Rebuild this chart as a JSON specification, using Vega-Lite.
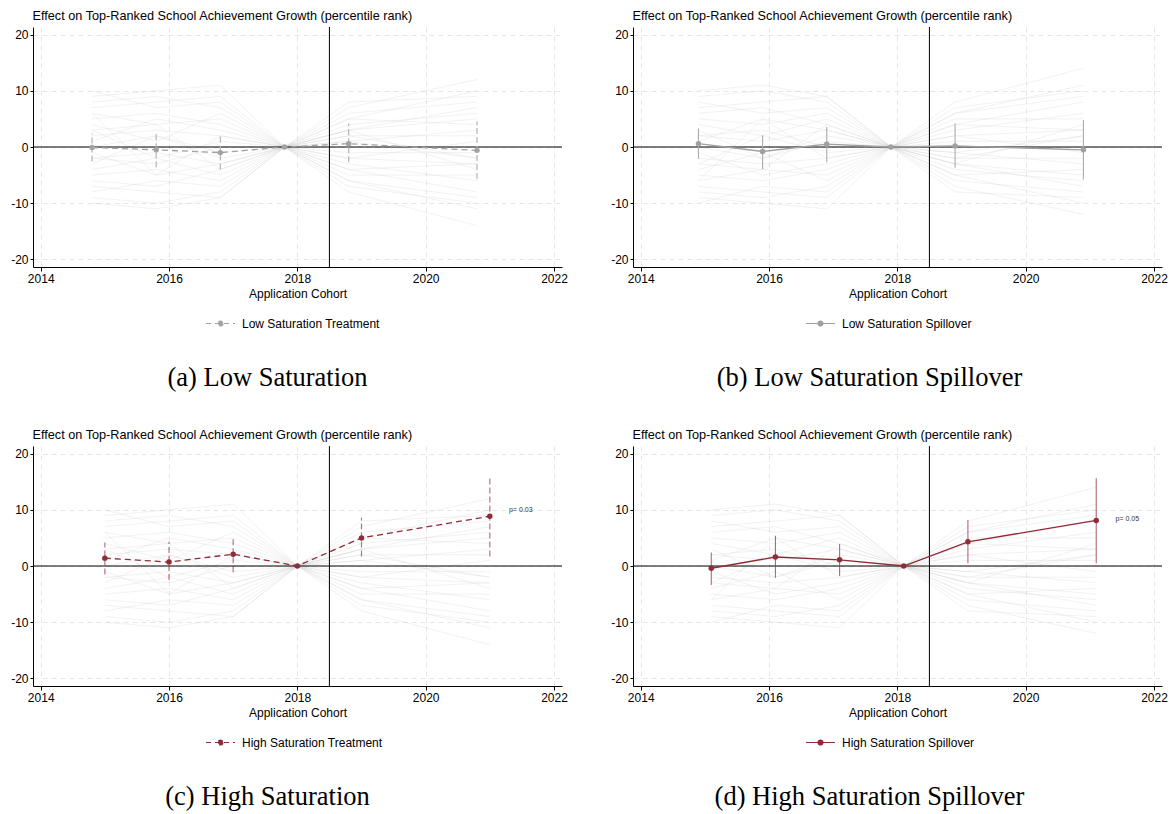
{
"$schema": "https://vega.github.io/schema/vega-lite/v6.json",
"background": "white",
"padding": {"left": 10, "top": 9, "right": 5, "bottom": 5},
"datasets": {
"est": [
{"p":"a","s":"Low Saturation Treatment","x":2014.8,"y":-0.1,"lo":-2.6,"hi":2.4},
{"p":"a","s":"Low Saturation Treatment","x":2015.8,"y":-0.5,"lo":-3.6,"hi":2.5},
{"p":"a","s":"Low Saturation Treatment","x":2016.8,"y":-1.0,"lo":-4.0,"hi":2.1},
{"p":"a","s":"Low Saturation Treatment","x":2017.8,"y":0,"lo":0,"hi":0},
{"p":"a","s":"Low Saturation Treatment","x":2018.8,"y":0.6,"lo":-2.7,"hi":4.2},
{"p":"a","s":"Low Saturation Treatment","x":2020.8,"y":-0.6,"lo":-5.7,"hi":4.6},
{"p":"b","s":"Low Saturation Spillover","x":2014.9,"y":0.6,"lo":-2.1,"hi":3.3},
{"p":"b","s":"Low Saturation Spillover","x":2015.9,"y":-0.8,"lo":-3.9,"hi":2.1},
{"p":"b","s":"Low Saturation Spillover","x":2016.9,"y":0.5,"lo":-2.7,"hi":3.6},
{"p":"b","s":"Low Saturation Spillover","x":2017.9,"y":0,"lo":0,"hi":0},
{"p":"b","s":"Low Saturation Spillover","x":2018.9,"y":0.2,"lo":-3.7,"hi":4.2},
{"p":"b","s":"Low Saturation Spillover","x":2020.9,"y":-0.5,"lo":-5.8,"hi":4.8},
{"p":"c","s":"High Saturation Treatment","x":2015,"y":1.4,"lo":-1.5,"hi":4.2},
{"p":"c","s":"High Saturation Treatment","x":2016,"y":0.7,"lo":-2.5,"hi":4.3},
{"p":"c","s":"High Saturation Treatment","x":2017,"y":2.1,"lo":-1.1,"hi":5.2},
{"p":"c","s":"High Saturation Treatment","x":2018,"y":0,"lo":0,"hi":0},
{"p":"c","s":"High Saturation Treatment","x":2019,"y":5.0,"lo":1.7,"hi":8.6},
{"p":"c","s":"High Saturation Treatment","x":2021,"y":8.85,"lo":1.7,"hi":16.0},
{"p":"d","s":"High Saturation Spillover","x":2015.1,"y":-0.4,"lo":-3.4,"hi":2.4},
{"p":"d","s":"High Saturation Spillover","x":2016.1,"y":1.6,"lo":-2.1,"hi":5.4},
{"p":"d","s":"High Saturation Spillover","x":2017.1,"y":1.1,"lo":-1.8,"hi":3.9},
{"p":"d","s":"High Saturation Spillover","x":2018.1,"y":0,"lo":0,"hi":0},
{"p":"d","s":"High Saturation Spillover","x":2019.1,"y":4.3,"lo":0.5,"hi":8.2},
{"p":"d","s":"High Saturation Spillover","x":2021.1,"y":8.1,"lo":0.5,"hi":15.6}
],
"plac": [
{"p":"a","i":1,"x":2014.8,"y":8},{"p":"a","i":1,"x":2015.8,"y":9},{"p":"a","i":1,"x":2016.8,"y":7},{"p":"a","i":1,"x":2017.8,"y":0},{"p":"a","i":1,"x":2018.8,"y":5},{"p":"a","i":1,"x":2020.8,"y":10},
{"p":"a","i":2,"x":2014.8,"y":-9},{"p":"a","i":2,"x":2015.8,"y":-10},{"p":"a","i":2,"x":2016.8,"y":-8},{"p":"a","i":2,"x":2017.8,"y":0},{"p":"a","i":2,"x":2018.8,"y":-6},{"p":"a","i":2,"x":2020.8,"y":-11},
{"p":"a","i":3,"x":2014.8,"y":5},{"p":"a","i":3,"x":2015.8,"y":6},{"p":"a","i":3,"x":2016.8,"y":4},{"p":"a","i":3,"x":2017.8,"y":0},{"p":"a","i":3,"x":2018.8,"y":3},{"p":"a","i":3,"x":2020.8,"y":7},
{"p":"a","i":4,"x":2014.8,"y":-5},{"p":"a","i":4,"x":2015.8,"y":-4},{"p":"a","i":4,"x":2016.8,"y":-6},{"p":"a","i":4,"x":2017.8,"y":0},{"p":"a","i":4,"x":2018.8,"y":-4},{"p":"a","i":4,"x":2020.8,"y":-8},
{"p":"a","i":5,"x":2014.8,"y":2},{"p":"a","i":5,"x":2015.8,"y":3},{"p":"a","i":5,"x":2016.8,"y":2},{"p":"a","i":5,"x":2017.8,"y":0},{"p":"a","i":5,"x":2018.8,"y":1},{"p":"a","i":5,"x":2020.8,"y":3},
{"p":"a","i":6,"x":2014.8,"y":-2},{"p":"a","i":6,"x":2015.8,"y":-1},{"p":"a","i":6,"x":2016.8,"y":-3},{"p":"a","i":6,"x":2017.8,"y":0},{"p":"a","i":6,"x":2018.8,"y":-2},{"p":"a","i":6,"x":2020.8,"y":-3},
{"p":"a","i":7,"x":2014.8,"y":6},{"p":"a","i":7,"x":2015.8,"y":4},{"p":"a","i":7,"x":2016.8,"y":5},{"p":"a","i":7,"x":2017.8,"y":0},{"p":"a","i":7,"x":2018.8,"y":-3},{"p":"a","i":7,"x":2020.8,"y":-6},
{"p":"a","i":8,"x":2014.8,"y":-6},{"p":"a","i":8,"x":2015.8,"y":-7},{"p":"a","i":8,"x":2016.8,"y":-4},{"p":"a","i":8,"x":2017.8,"y":0},{"p":"a","i":8,"x":2018.8,"y":4},{"p":"a","i":8,"x":2020.8,"y":6},
{"p":"a","i":9,"x":2014.8,"y":10},{"p":"a","i":9,"x":2015.8,"y":7},{"p":"a","i":9,"x":2016.8,"y":8},{"p":"a","i":9,"x":2017.8,"y":0},{"p":"a","i":9,"x":2018.8,"y":7},{"p":"a","i":9,"x":2020.8,"y":12},
{"p":"a","i":10,"x":2014.8,"y":-10},{"p":"a","i":10,"x":2015.8,"y":-11},{"p":"a","i":10,"x":2016.8,"y":-9},{"p":"a","i":10,"x":2017.8,"y":0},{"p":"a","i":10,"x":2018.8,"y":-8},{"p":"a","i":10,"x":2020.8,"y":-14},
{"p":"a","i":11,"x":2014.8,"y":3},{"p":"a","i":11,"x":2015.8,"y":-2},{"p":"a","i":11,"x":2016.8,"y":1},{"p":"a","i":11,"x":2017.8,"y":0},{"p":"a","i":11,"x":2018.8,"y":5},{"p":"a","i":11,"x":2020.8,"y":4},
{"p":"a","i":12,"x":2014.8,"y":-3},{"p":"a","i":12,"x":2015.8,"y":2},{"p":"a","i":12,"x":2016.8,"y":-1},{"p":"a","i":12,"x":2017.8,"y":0},{"p":"a","i":12,"x":2018.8,"y":-5},{"p":"a","i":12,"x":2020.8,"y":-5},
{"p":"a","i":13,"x":2014.8,"y":7},{"p":"a","i":13,"x":2015.8,"y":8},{"p":"a","i":13,"x":2016.8,"y":9},{"p":"a","i":13,"x":2017.8,"y":0},{"p":"a","i":13,"x":2018.8,"y":2},{"p":"a","i":13,"x":2020.8,"y":2},
{"p":"a","i":14,"x":2014.8,"y":-7},{"p":"a","i":14,"x":2015.8,"y":-8},{"p":"a","i":14,"x":2016.8,"y":-9},{"p":"a","i":14,"x":2017.8,"y":0},{"p":"a","i":14,"x":2018.8,"y":-1},{"p":"a","i":14,"x":2020.8,"y":-1},
{"p":"a","i":15,"x":2014.8,"y":1},{"p":"a","i":15,"x":2015.8,"y":5},{"p":"a","i":15,"x":2016.8,"y":3},{"p":"a","i":15,"x":2017.8,"y":0},{"p":"a","i":15,"x":2018.8,"y":6},{"p":"a","i":15,"x":2020.8,"y":8},
{"p":"a","i":16,"x":2014.8,"y":-1},{"p":"a","i":16,"x":2015.8,"y":-5},{"p":"a","i":16,"x":2016.8,"y":-3},{"p":"a","i":16,"x":2017.8,"y":0},{"p":"a","i":16,"x":2018.8,"y":-6},{"p":"a","i":16,"x":2020.8,"y":-9},
{"p":"a","i":17,"x":2014.8,"y":4},{"p":"a","i":17,"x":2015.8,"y":1},{"p":"a","i":17,"x":2016.8,"y":6},{"p":"a","i":17,"x":2017.8,"y":0},{"p":"a","i":17,"x":2018.8,"y":-2},{"p":"a","i":17,"x":2020.8,"y":1},
{"p":"a","i":18,"x":2014.8,"y":-4},{"p":"a","i":18,"x":2015.8,"y":-2},{"p":"a","i":18,"x":2016.8,"y":-5},{"p":"a","i":18,"x":2017.8,"y":0},{"p":"a","i":18,"x":2018.8,"y":2},{"p":"a","i":18,"x":2020.8,"y":-2},
{"p":"a","i":19,"x":2014.8,"y":0},{"p":"a","i":19,"x":2015.8,"y":2},{"p":"a","i":19,"x":2016.8,"y":-2},{"p":"a","i":19,"x":2017.8,"y":0},{"p":"a","i":19,"x":2018.8,"y":3},{"p":"a","i":19,"x":2020.8,"y":5},
{"p":"a","i":20,"x":2014.8,"y":9},{"p":"a","i":20,"x":2015.8,"y":10},{"p":"a","i":20,"x":2016.8,"y":11},{"p":"a","i":20,"x":2017.8,"y":0},{"p":"a","i":20,"x":2018.8,"y":-4},{"p":"a","i":20,"x":2020.8,"y":-3},
{"p":"a","i":21,"x":2014.8,"y":-8},{"p":"a","i":21,"x":2015.8,"y":-6},{"p":"a","i":21,"x":2016.8,"y":-7},{"p":"a","i":21,"x":2017.8,"y":0},{"p":"a","i":21,"x":2018.8,"y":3},{"p":"a","i":21,"x":2020.8,"y":-4},
{"p":"a","i":22,"x":2014.8,"y":3},{"p":"a","i":22,"x":2015.8,"y":4},{"p":"a","i":22,"x":2016.8,"y":-4},{"p":"a","i":22,"x":2017.8,"y":0},{"p":"a","i":22,"x":2018.8,"y":8},{"p":"a","i":22,"x":2020.8,"y":9},
{"p":"a","i":23,"x":2014.8,"y":-2},{"p":"a","i":23,"x":2015.8,"y":-3},{"p":"a","i":23,"x":2016.8,"y":0},{"p":"a","i":23,"x":2017.8,"y":0},{"p":"a","i":23,"x":2018.8,"y":-7},{"p":"a","i":23,"x":2020.8,"y":-10},
{"p":"a","i":24,"x":2014.8,"y":6},{"p":"a","i":24,"x":2015.8,"y":-5},{"p":"a","i":24,"x":2016.8,"y":2},{"p":"a","i":24,"x":2017.8,"y":0},{"p":"a","i":24,"x":2018.8,"y":1},{"p":"a","i":24,"x":2020.8,"y":-2},
{"p":"b","i":1,"x":2014.9,"y":-8},{"p":"b","i":1,"x":2015.9,"y":-9},{"p":"b","i":1,"x":2016.9,"y":-7},{"p":"b","i":1,"x":2017.9,"y":0},{"p":"b","i":1,"x":2018.9,"y":-5},{"p":"b","i":1,"x":2020.9,"y":-10},
{"p":"b","i":2,"x":2014.9,"y":9},{"p":"b","i":2,"x":2015.9,"y":10},{"p":"b","i":2,"x":2016.9,"y":8},{"p":"b","i":2,"x":2017.9,"y":0},{"p":"b","i":2,"x":2018.9,"y":6},{"p":"b","i":2,"x":2020.9,"y":11},
{"p":"b","i":3,"x":2014.9,"y":-5},{"p":"b","i":3,"x":2015.9,"y":-6},{"p":"b","i":3,"x":2016.9,"y":-4},{"p":"b","i":3,"x":2017.9,"y":0},{"p":"b","i":3,"x":2018.9,"y":-3},{"p":"b","i":3,"x":2020.9,"y":-7},
{"p":"b","i":4,"x":2014.9,"y":5},{"p":"b","i":4,"x":2015.9,"y":4},{"p":"b","i":4,"x":2016.9,"y":6},{"p":"b","i":4,"x":2017.9,"y":0},{"p":"b","i":4,"x":2018.9,"y":4},{"p":"b","i":4,"x":2020.9,"y":8},
{"p":"b","i":5,"x":2014.9,"y":-2},{"p":"b","i":5,"x":2015.9,"y":-3},{"p":"b","i":5,"x":2016.9,"y":-2},{"p":"b","i":5,"x":2017.9,"y":0},{"p":"b","i":5,"x":2018.9,"y":-1},{"p":"b","i":5,"x":2020.9,"y":-3},
{"p":"b","i":6,"x":2014.9,"y":2},{"p":"b","i":6,"x":2015.9,"y":1},{"p":"b","i":6,"x":2016.9,"y":3},{"p":"b","i":6,"x":2017.9,"y":0},{"p":"b","i":6,"x":2018.9,"y":2},{"p":"b","i":6,"x":2020.9,"y":3},
{"p":"b","i":7,"x":2014.9,"y":-6},{"p":"b","i":7,"x":2015.9,"y":-4},{"p":"b","i":7,"x":2016.9,"y":-5},{"p":"b","i":7,"x":2017.9,"y":0},{"p":"b","i":7,"x":2018.9,"y":3},{"p":"b","i":7,"x":2020.9,"y":6},
{"p":"b","i":8,"x":2014.9,"y":6},{"p":"b","i":8,"x":2015.9,"y":7},{"p":"b","i":8,"x":2016.9,"y":4},{"p":"b","i":8,"x":2017.9,"y":0},{"p":"b","i":8,"x":2018.9,"y":-4},{"p":"b","i":8,"x":2020.9,"y":-6},
{"p":"b","i":9,"x":2014.9,"y":-10},{"p":"b","i":9,"x":2015.9,"y":-7},{"p":"b","i":9,"x":2016.9,"y":-8},{"p":"b","i":9,"x":2017.9,"y":0},{"p":"b","i":9,"x":2018.9,"y":-7},{"p":"b","i":9,"x":2020.9,"y":-12},
{"p":"b","i":10,"x":2014.9,"y":10},{"p":"b","i":10,"x":2015.9,"y":11},{"p":"b","i":10,"x":2016.9,"y":9},{"p":"b","i":10,"x":2017.9,"y":0},{"p":"b","i":10,"x":2018.9,"y":8},{"p":"b","i":10,"x":2020.9,"y":14},
{"p":"b","i":11,"x":2014.9,"y":-3},{"p":"b","i":11,"x":2015.9,"y":2},{"p":"b","i":11,"x":2016.9,"y":-1},{"p":"b","i":11,"x":2017.9,"y":0},{"p":"b","i":11,"x":2018.9,"y":-5},{"p":"b","i":11,"x":2020.9,"y":-4},
{"p":"b","i":12,"x":2014.9,"y":3},{"p":"b","i":12,"x":2015.9,"y":-2},{"p":"b","i":12,"x":2016.9,"y":1},{"p":"b","i":12,"x":2017.9,"y":0},{"p":"b","i":12,"x":2018.9,"y":5},{"p":"b","i":12,"x":2020.9,"y":5},
{"p":"b","i":13,"x":2014.9,"y":-7},{"p":"b","i":13,"x":2015.9,"y":-8},{"p":"b","i":13,"x":2016.9,"y":-9},{"p":"b","i":13,"x":2017.9,"y":0},{"p":"b","i":13,"x":2018.9,"y":-2},{"p":"b","i":13,"x":2020.9,"y":-2},
{"p":"b","i":14,"x":2014.9,"y":7},{"p":"b","i":14,"x":2015.9,"y":8},{"p":"b","i":14,"x":2016.9,"y":9},{"p":"b","i":14,"x":2017.9,"y":0},{"p":"b","i":14,"x":2018.9,"y":1},{"p":"b","i":14,"x":2020.9,"y":1},
{"p":"b","i":15,"x":2014.9,"y":-1},{"p":"b","i":15,"x":2015.9,"y":-5},{"p":"b","i":15,"x":2016.9,"y":-3},{"p":"b","i":15,"x":2017.9,"y":0},{"p":"b","i":15,"x":2018.9,"y":-6},{"p":"b","i":15,"x":2020.9,"y":-8},
{"p":"b","i":16,"x":2014.9,"y":1},{"p":"b","i":16,"x":2015.9,"y":5},{"p":"b","i":16,"x":2016.9,"y":3},{"p":"b","i":16,"x":2017.9,"y":0},{"p":"b","i":16,"x":2018.9,"y":6},{"p":"b","i":16,"x":2020.9,"y":9},
{"p":"b","i":17,"x":2014.9,"y":-4},{"p":"b","i":17,"x":2015.9,"y":-1},{"p":"b","i":17,"x":2016.9,"y":-6},{"p":"b","i":17,"x":2017.9,"y":0},{"p":"b","i":17,"x":2018.9,"y":2},{"p":"b","i":17,"x":2020.9,"y":-1},
{"p":"b","i":18,"x":2014.9,"y":4},{"p":"b","i":18,"x":2015.9,"y":2},{"p":"b","i":18,"x":2016.9,"y":5},{"p":"b","i":18,"x":2017.9,"y":0},{"p":"b","i":18,"x":2018.9,"y":-2},{"p":"b","i":18,"x":2020.9,"y":2},
{"p":"b","i":19,"x":2014.9,"y":0},{"p":"b","i":19,"x":2015.9,"y":-2},{"p":"b","i":19,"x":2016.9,"y":2},{"p":"b","i":19,"x":2017.9,"y":0},{"p":"b","i":19,"x":2018.9,"y":-3},{"p":"b","i":19,"x":2020.9,"y":-5},
{"p":"b","i":20,"x":2014.9,"y":-9},{"p":"b","i":20,"x":2015.9,"y":-10},{"p":"b","i":20,"x":2016.9,"y":-11},{"p":"b","i":20,"x":2017.9,"y":0},{"p":"b","i":20,"x":2018.9,"y":4},{"p":"b","i":20,"x":2020.9,"y":3},
{"p":"b","i":21,"x":2014.9,"y":8},{"p":"b","i":21,"x":2015.9,"y":6},{"p":"b","i":21,"x":2016.9,"y":7},{"p":"b","i":21,"x":2017.9,"y":0},{"p":"b","i":21,"x":2018.9,"y":-3},{"p":"b","i":21,"x":2020.9,"y":4},
{"p":"b","i":22,"x":2014.9,"y":-3},{"p":"b","i":22,"x":2015.9,"y":-4},{"p":"b","i":22,"x":2016.9,"y":4},{"p":"b","i":22,"x":2017.9,"y":0},{"p":"b","i":22,"x":2018.9,"y":-8},{"p":"b","i":22,"x":2020.9,"y":-9},
{"p":"b","i":23,"x":2014.9,"y":2},{"p":"b","i":23,"x":2015.9,"y":3},{"p":"b","i":23,"x":2016.9,"y":0},{"p":"b","i":23,"x":2017.9,"y":0},{"p":"b","i":23,"x":2018.9,"y":7},{"p":"b","i":23,"x":2020.9,"y":10},
{"p":"b","i":24,"x":2014.9,"y":-6},{"p":"b","i":24,"x":2015.9,"y":5},{"p":"b","i":24,"x":2016.9,"y":-2},{"p":"b","i":24,"x":2017.9,"y":0},{"p":"b","i":24,"x":2018.9,"y":-1},{"p":"b","i":24,"x":2020.9,"y":2},
{"p":"c","i":1,"x":2015,"y":8},{"p":"c","i":1,"x":2016,"y":9},{"p":"c","i":1,"x":2017,"y":7},{"p":"c","i":1,"x":2018,"y":0},{"p":"c","i":1,"x":2019,"y":5},{"p":"c","i":1,"x":2021,"y":10},
{"p":"c","i":2,"x":2015,"y":-9},{"p":"c","i":2,"x":2016,"y":-10},{"p":"c","i":2,"x":2017,"y":-8},{"p":"c","i":2,"x":2018,"y":0},{"p":"c","i":2,"x":2019,"y":-6},{"p":"c","i":2,"x":2021,"y":-11},
{"p":"c","i":3,"x":2015,"y":5},{"p":"c","i":3,"x":2016,"y":6},{"p":"c","i":3,"x":2017,"y":4},{"p":"c","i":3,"x":2018,"y":0},{"p":"c","i":3,"x":2019,"y":3},{"p":"c","i":3,"x":2021,"y":7},
{"p":"c","i":4,"x":2015,"y":-5},{"p":"c","i":4,"x":2016,"y":-4},{"p":"c","i":4,"x":2017,"y":-6},{"p":"c","i":4,"x":2018,"y":0},{"p":"c","i":4,"x":2019,"y":-4},{"p":"c","i":4,"x":2021,"y":-8},
{"p":"c","i":5,"x":2015,"y":2},{"p":"c","i":5,"x":2016,"y":3},{"p":"c","i":5,"x":2017,"y":2},{"p":"c","i":5,"x":2018,"y":0},{"p":"c","i":5,"x":2019,"y":1},{"p":"c","i":5,"x":2021,"y":3},
{"p":"c","i":6,"x":2015,"y":-2},{"p":"c","i":6,"x":2016,"y":-1},{"p":"c","i":6,"x":2017,"y":-3},{"p":"c","i":6,"x":2018,"y":0},{"p":"c","i":6,"x":2019,"y":-2},{"p":"c","i":6,"x":2021,"y":-3},
{"p":"c","i":7,"x":2015,"y":6},{"p":"c","i":7,"x":2016,"y":4},{"p":"c","i":7,"x":2017,"y":5},{"p":"c","i":7,"x":2018,"y":0},{"p":"c","i":7,"x":2019,"y":-3},{"p":"c","i":7,"x":2021,"y":-6},
{"p":"c","i":8,"x":2015,"y":-6},{"p":"c","i":8,"x":2016,"y":-7},{"p":"c","i":8,"x":2017,"y":-4},{"p":"c","i":8,"x":2018,"y":0},{"p":"c","i":8,"x":2019,"y":4},{"p":"c","i":8,"x":2021,"y":6},
{"p":"c","i":9,"x":2015,"y":10},{"p":"c","i":9,"x":2016,"y":7},{"p":"c","i":9,"x":2017,"y":8},{"p":"c","i":9,"x":2018,"y":0},{"p":"c","i":9,"x":2019,"y":7},{"p":"c","i":9,"x":2021,"y":12},
{"p":"c","i":10,"x":2015,"y":-10},{"p":"c","i":10,"x":2016,"y":-11},{"p":"c","i":10,"x":2017,"y":-9},{"p":"c","i":10,"x":2018,"y":0},{"p":"c","i":10,"x":2019,"y":-8},{"p":"c","i":10,"x":2021,"y":-14},
{"p":"c","i":11,"x":2015,"y":3},{"p":"c","i":11,"x":2016,"y":-2},{"p":"c","i":11,"x":2017,"y":1},{"p":"c","i":11,"x":2018,"y":0},{"p":"c","i":11,"x":2019,"y":5},{"p":"c","i":11,"x":2021,"y":4},
{"p":"c","i":12,"x":2015,"y":-3},{"p":"c","i":12,"x":2016,"y":2},{"p":"c","i":12,"x":2017,"y":-1},{"p":"c","i":12,"x":2018,"y":0},{"p":"c","i":12,"x":2019,"y":-5},{"p":"c","i":12,"x":2021,"y":-5},
{"p":"c","i":13,"x":2015,"y":7},{"p":"c","i":13,"x":2016,"y":8},{"p":"c","i":13,"x":2017,"y":9},{"p":"c","i":13,"x":2018,"y":0},{"p":"c","i":13,"x":2019,"y":2},{"p":"c","i":13,"x":2021,"y":2},
{"p":"c","i":14,"x":2015,"y":-7},{"p":"c","i":14,"x":2016,"y":-8},{"p":"c","i":14,"x":2017,"y":-9},{"p":"c","i":14,"x":2018,"y":0},{"p":"c","i":14,"x":2019,"y":-1},{"p":"c","i":14,"x":2021,"y":-1},
{"p":"c","i":15,"x":2015,"y":1},{"p":"c","i":15,"x":2016,"y":5},{"p":"c","i":15,"x":2017,"y":3},{"p":"c","i":15,"x":2018,"y":0},{"p":"c","i":15,"x":2019,"y":6},{"p":"c","i":15,"x":2021,"y":8},
{"p":"c","i":16,"x":2015,"y":-1},{"p":"c","i":16,"x":2016,"y":-5},{"p":"c","i":16,"x":2017,"y":-3},{"p":"c","i":16,"x":2018,"y":0},{"p":"c","i":16,"x":2019,"y":-6},{"p":"c","i":16,"x":2021,"y":-9},
{"p":"c","i":17,"x":2015,"y":4},{"p":"c","i":17,"x":2016,"y":1},{"p":"c","i":17,"x":2017,"y":6},{"p":"c","i":17,"x":2018,"y":0},{"p":"c","i":17,"x":2019,"y":-2},{"p":"c","i":17,"x":2021,"y":1},
{"p":"c","i":18,"x":2015,"y":-4},{"p":"c","i":18,"x":2016,"y":-2},{"p":"c","i":18,"x":2017,"y":-5},{"p":"c","i":18,"x":2018,"y":0},{"p":"c","i":18,"x":2019,"y":2},{"p":"c","i":18,"x":2021,"y":-2},
{"p":"c","i":19,"x":2015,"y":0},{"p":"c","i":19,"x":2016,"y":2},{"p":"c","i":19,"x":2017,"y":-2},{"p":"c","i":19,"x":2018,"y":0},{"p":"c","i":19,"x":2019,"y":3},{"p":"c","i":19,"x":2021,"y":5},
{"p":"c","i":20,"x":2015,"y":9},{"p":"c","i":20,"x":2016,"y":10},{"p":"c","i":20,"x":2017,"y":11},{"p":"c","i":20,"x":2018,"y":0},{"p":"c","i":20,"x":2019,"y":-4},{"p":"c","i":20,"x":2021,"y":-3},
{"p":"c","i":21,"x":2015,"y":-8},{"p":"c","i":21,"x":2016,"y":-6},{"p":"c","i":21,"x":2017,"y":-7},{"p":"c","i":21,"x":2018,"y":0},{"p":"c","i":21,"x":2019,"y":3},{"p":"c","i":21,"x":2021,"y":-4},
{"p":"c","i":22,"x":2015,"y":3},{"p":"c","i":22,"x":2016,"y":4},{"p":"c","i":22,"x":2017,"y":-4},{"p":"c","i":22,"x":2018,"y":0},{"p":"c","i":22,"x":2019,"y":8},{"p":"c","i":22,"x":2021,"y":9},
{"p":"c","i":23,"x":2015,"y":-2},{"p":"c","i":23,"x":2016,"y":-3},{"p":"c","i":23,"x":2017,"y":0},{"p":"c","i":23,"x":2018,"y":0},{"p":"c","i":23,"x":2019,"y":-7},{"p":"c","i":23,"x":2021,"y":-10},
{"p":"c","i":24,"x":2015,"y":6},{"p":"c","i":24,"x":2016,"y":-5},{"p":"c","i":24,"x":2017,"y":2},{"p":"c","i":24,"x":2018,"y":0},{"p":"c","i":24,"x":2019,"y":1},{"p":"c","i":24,"x":2021,"y":-2},
{"p":"d","i":1,"x":2015.1,"y":-8},{"p":"d","i":1,"x":2016.1,"y":-9},{"p":"d","i":1,"x":2017.1,"y":-7},{"p":"d","i":1,"x":2018.1,"y":0},{"p":"d","i":1,"x":2019.1,"y":-5},{"p":"d","i":1,"x":2021.1,"y":-10},
{"p":"d","i":2,"x":2015.1,"y":9},{"p":"d","i":2,"x":2016.1,"y":10},{"p":"d","i":2,"x":2017.1,"y":8},{"p":"d","i":2,"x":2018.1,"y":0},{"p":"d","i":2,"x":2019.1,"y":6},{"p":"d","i":2,"x":2021.1,"y":11},
{"p":"d","i":3,"x":2015.1,"y":-5},{"p":"d","i":3,"x":2016.1,"y":-6},{"p":"d","i":3,"x":2017.1,"y":-4},{"p":"d","i":3,"x":2018.1,"y":0},{"p":"d","i":3,"x":2019.1,"y":-3},{"p":"d","i":3,"x":2021.1,"y":-7},
{"p":"d","i":4,"x":2015.1,"y":5},{"p":"d","i":4,"x":2016.1,"y":4},{"p":"d","i":4,"x":2017.1,"y":6},{"p":"d","i":4,"x":2018.1,"y":0},{"p":"d","i":4,"x":2019.1,"y":4},{"p":"d","i":4,"x":2021.1,"y":8},
{"p":"d","i":5,"x":2015.1,"y":-2},{"p":"d","i":5,"x":2016.1,"y":-3},{"p":"d","i":5,"x":2017.1,"y":-2},{"p":"d","i":5,"x":2018.1,"y":0},{"p":"d","i":5,"x":2019.1,"y":-1},{"p":"d","i":5,"x":2021.1,"y":-3},
{"p":"d","i":6,"x":2015.1,"y":2},{"p":"d","i":6,"x":2016.1,"y":1},{"p":"d","i":6,"x":2017.1,"y":3},{"p":"d","i":6,"x":2018.1,"y":0},{"p":"d","i":6,"x":2019.1,"y":2},{"p":"d","i":6,"x":2021.1,"y":3},
{"p":"d","i":7,"x":2015.1,"y":-6},{"p":"d","i":7,"x":2016.1,"y":-4},{"p":"d","i":7,"x":2017.1,"y":-5},{"p":"d","i":7,"x":2018.1,"y":0},{"p":"d","i":7,"x":2019.1,"y":3},{"p":"d","i":7,"x":2021.1,"y":6},
{"p":"d","i":8,"x":2015.1,"y":6},{"p":"d","i":8,"x":2016.1,"y":7},{"p":"d","i":8,"x":2017.1,"y":4},{"p":"d","i":8,"x":2018.1,"y":0},{"p":"d","i":8,"x":2019.1,"y":-4},{"p":"d","i":8,"x":2021.1,"y":-6},
{"p":"d","i":9,"x":2015.1,"y":-10},{"p":"d","i":9,"x":2016.1,"y":-7},{"p":"d","i":9,"x":2017.1,"y":-8},{"p":"d","i":9,"x":2018.1,"y":0},{"p":"d","i":9,"x":2019.1,"y":-7},{"p":"d","i":9,"x":2021.1,"y":-12},
{"p":"d","i":10,"x":2015.1,"y":10},{"p":"d","i":10,"x":2016.1,"y":11},{"p":"d","i":10,"x":2017.1,"y":9},{"p":"d","i":10,"x":2018.1,"y":0},{"p":"d","i":10,"x":2019.1,"y":8},{"p":"d","i":10,"x":2021.1,"y":14},
{"p":"d","i":11,"x":2015.1,"y":-3},{"p":"d","i":11,"x":2016.1,"y":2},{"p":"d","i":11,"x":2017.1,"y":-1},{"p":"d","i":11,"x":2018.1,"y":0},{"p":"d","i":11,"x":2019.1,"y":-5},{"p":"d","i":11,"x":2021.1,"y":-4},
{"p":"d","i":12,"x":2015.1,"y":3},{"p":"d","i":12,"x":2016.1,"y":-2},{"p":"d","i":12,"x":2017.1,"y":1},{"p":"d","i":12,"x":2018.1,"y":0},{"p":"d","i":12,"x":2019.1,"y":5},{"p":"d","i":12,"x":2021.1,"y":5},
{"p":"d","i":13,"x":2015.1,"y":-7},{"p":"d","i":13,"x":2016.1,"y":-8},{"p":"d","i":13,"x":2017.1,"y":-9},{"p":"d","i":13,"x":2018.1,"y":0},{"p":"d","i":13,"x":2019.1,"y":-2},{"p":"d","i":13,"x":2021.1,"y":-2},
{"p":"d","i":14,"x":2015.1,"y":7},{"p":"d","i":14,"x":2016.1,"y":8},{"p":"d","i":14,"x":2017.1,"y":9},{"p":"d","i":14,"x":2018.1,"y":0},{"p":"d","i":14,"x":2019.1,"y":1},{"p":"d","i":14,"x":2021.1,"y":1},
{"p":"d","i":15,"x":2015.1,"y":-1},{"p":"d","i":15,"x":2016.1,"y":-5},{"p":"d","i":15,"x":2017.1,"y":-3},{"p":"d","i":15,"x":2018.1,"y":0},{"p":"d","i":15,"x":2019.1,"y":-6},{"p":"d","i":15,"x":2021.1,"y":-8},
{"p":"d","i":16,"x":2015.1,"y":1},{"p":"d","i":16,"x":2016.1,"y":5},{"p":"d","i":16,"x":2017.1,"y":3},{"p":"d","i":16,"x":2018.1,"y":0},{"p":"d","i":16,"x":2019.1,"y":6},{"p":"d","i":16,"x":2021.1,"y":9},
{"p":"d","i":17,"x":2015.1,"y":-4},{"p":"d","i":17,"x":2016.1,"y":-1},{"p":"d","i":17,"x":2017.1,"y":-6},{"p":"d","i":17,"x":2018.1,"y":0},{"p":"d","i":17,"x":2019.1,"y":2},{"p":"d","i":17,"x":2021.1,"y":-1},
{"p":"d","i":18,"x":2015.1,"y":4},{"p":"d","i":18,"x":2016.1,"y":2},{"p":"d","i":18,"x":2017.1,"y":5},{"p":"d","i":18,"x":2018.1,"y":0},{"p":"d","i":18,"x":2019.1,"y":-2},{"p":"d","i":18,"x":2021.1,"y":2},
{"p":"d","i":19,"x":2015.1,"y":0},{"p":"d","i":19,"x":2016.1,"y":-2},{"p":"d","i":19,"x":2017.1,"y":2},{"p":"d","i":19,"x":2018.1,"y":0},{"p":"d","i":19,"x":2019.1,"y":-3},{"p":"d","i":19,"x":2021.1,"y":-5},
{"p":"d","i":20,"x":2015.1,"y":-9},{"p":"d","i":20,"x":2016.1,"y":-10},{"p":"d","i":20,"x":2017.1,"y":-11},{"p":"d","i":20,"x":2018.1,"y":0},{"p":"d","i":20,"x":2019.1,"y":4},{"p":"d","i":20,"x":2021.1,"y":3},
{"p":"d","i":21,"x":2015.1,"y":8},{"p":"d","i":21,"x":2016.1,"y":6},{"p":"d","i":21,"x":2017.1,"y":7},{"p":"d","i":21,"x":2018.1,"y":0},{"p":"d","i":21,"x":2019.1,"y":-3},{"p":"d","i":21,"x":2021.1,"y":4},
{"p":"d","i":22,"x":2015.1,"y":-3},{"p":"d","i":22,"x":2016.1,"y":-4},{"p":"d","i":22,"x":2017.1,"y":4},{"p":"d","i":22,"x":2018.1,"y":0},{"p":"d","i":22,"x":2019.1,"y":-8},{"p":"d","i":22,"x":2021.1,"y":-9},
{"p":"d","i":23,"x":2015.1,"y":2},{"p":"d","i":23,"x":2016.1,"y":3},{"p":"d","i":23,"x":2017.1,"y":0},{"p":"d","i":23,"x":2018.1,"y":0},{"p":"d","i":23,"x":2019.1,"y":7},{"p":"d","i":23,"x":2021.1,"y":10},
{"p":"d","i":24,"x":2015.1,"y":-6},{"p":"d","i":24,"x":2016.1,"y":5},{"p":"d","i":24,"x":2017.1,"y":-2},{"p":"d","i":24,"x":2018.1,"y":0},{"p":"d","i":24,"x":2019.1,"y":-1},{"p":"d","i":24,"x":2021.1,"y":2}
]
},
"columns": 2,
"bounds": "flush",
"spacing": {"row": 179, "column": 71},
"resolve": {"scale": {"x": "independent", "y": "independent", "color": "independent"}, "legend": {"color": "independent"}},
"concat": [
{
"width": 529, "height": 240,
"title": {"text": "(a) Low Saturation", "orient": "bottom", "anchor": "middle", "frame": "group", "dx": -30, "offset": 35},
"layer": [
{"data": {"name": "plac"}, "transform": [{"filter": "datum.p === 'a'"}],
 "mark": {"type": "line", "color": "#c4c4c4", "strokeWidth": 0.8, "opacity": 0.28},
 "encoding": {
  "x": {"field": "x", "type": "quantitative", "title": "Application Cohort", "scale": {"domain": [2013.88, 2022.125], "nice": false, "zero": false}, "axis": {"values": [2014, 2016, 2018, 2020, 2022], "format": "d"}},
  "y": {"field": "y", "type": "quantitative", "title": "Effect on Top-Ranked School Achievement Growth (percentile rank)", "scale": {"domain": [-21.35, 21.35], "nice": false, "zero": false}, "axis": {"values": [-20, -10, 0, 10, 20], "labelExpr": "'' + datum.value"}},
  "detail": {"field": "i", "type": "nominal"}}},
{"data": {"values": [{}]}, "mark": {"type": "rule", "color": "#000", "strokeWidth": 1}, "encoding": {"y": {"datum": 0, "type": "quantitative"}}},
{"data": {"values": [{}]}, "mark": {"type": "rule", "color": "#000", "strokeWidth": 1}, "encoding": {"x": {"datum": 2018.5, "type": "quantitative"}}},
{"data": {"name": "est"}, "transform": [{"filter": "datum.p === 'a'"}],
 "mark": {"type": "rule", "color": "#b3b3b3", "strokeWidth": 1.2, "strokeDash": [6, 3]},
 "encoding": {"x": {"field": "x", "type": "quantitative", "title": "Application Cohort"}, "y": {"field": "lo", "type": "quantitative", "title": "Effect on Top-Ranked School Achievement Growth (percentile rank)"}, "y2": {"field": "hi"}}},
{"data": {"name": "est"}, "transform": [{"filter": "datum.p === 'a'"}],
 "mark": {"type": "line", "strokeWidth": 1.3, "strokeDash": [6, 4]},
 "encoding": {"x": {"field": "x", "type": "quantitative", "title": "Application Cohort"}, "y": {"field": "y", "type": "quantitative", "title": "Effect on Top-Ranked School Achievement Growth (percentile rank)"},
  "color": {"field": "s", "type": "nominal", "scale": {"range": ["#a3a3a3"]},
   "legend": {"orient": "none", "legendX": 172, "legendY": 281, "title": null, "symbolType": "M-1,0L1,0M0.17,0A0.17,0.17,0,1,1,-0.17,0A0.17,0.17,0,1,1,0.17,0", "symbolSize": 841, "symbolStrokeWidth": 1.2, "symbolDash": [5, 4], "symbolFillColor": "#a3a3a3", "symbolStrokeColor": "#a3a3a3"}}}},
{"data": {"name": "est"}, "transform": [{"filter": "datum.p === 'a'"}],
 "mark": {"type": "point", "filled": true, "size": 30, "color": "#a3a3a3", "opacity": 1},
 "encoding": {"x": {"field": "x", "type": "quantitative", "title": "Application Cohort"}, "y": {"field": "y", "type": "quantitative", "title": "Effect on Top-Ranked School Achievement Growth (percentile rank)"}}}
]
},
{
"width": 529, "height": 240,
"title": {"text": "(b) Low Saturation Spillover", "orient": "bottom", "anchor": "middle", "frame": "group", "dx": -28, "offset": 35},
"layer": [
{"data": {"name": "plac"}, "transform": [{"filter": "datum.p === 'b'"}],
 "mark": {"type": "line", "color": "#c4c4c4", "strokeWidth": 0.8, "opacity": 0.28},
 "encoding": {
  "x": {"field": "x", "type": "quantitative", "title": "Application Cohort", "scale": {"domain": [2013.88, 2022.125], "nice": false, "zero": false}, "axis": {"values": [2014, 2016, 2018, 2020, 2022], "format": "d"}},
  "y": {"field": "y", "type": "quantitative", "title": "Effect on Top-Ranked School Achievement Growth (percentile rank)", "scale": {"domain": [-21.35, 21.35], "nice": false, "zero": false}, "axis": {"values": [-20, -10, 0, 10, 20], "labelExpr": "'' + datum.value"}},
  "detail": {"field": "i", "type": "nominal"}}},
{"data": {"values": [{}]}, "mark": {"type": "rule", "color": "#000", "strokeWidth": 1}, "encoding": {"y": {"datum": 0, "type": "quantitative"}}},
{"data": {"values": [{}]}, "mark": {"type": "rule", "color": "#000", "strokeWidth": 1}, "encoding": {"x": {"datum": 2018.5, "type": "quantitative"}}},
{"data": {"name": "est"}, "transform": [{"filter": "datum.p === 'b'"}],
 "mark": {"type": "rule", "color": "#ababab", "strokeWidth": 1.1},
 "encoding": {"x": {"field": "x", "type": "quantitative", "title": "Application Cohort"}, "y": {"field": "lo", "type": "quantitative", "title": "Effect on Top-Ranked School Achievement Growth (percentile rank)"}, "y2": {"field": "hi"}}},
{"data": {"name": "est"}, "transform": [{"filter": "datum.p === 'b'"}],
 "mark": {"type": "line", "strokeWidth": 1.3},
 "encoding": {"x": {"field": "x", "type": "quantitative", "title": "Application Cohort"}, "y": {"field": "y", "type": "quantitative", "title": "Effect on Top-Ranked School Achievement Growth (percentile rank)"},
  "color": {"field": "s", "type": "nominal", "scale": {"range": ["#a0a0a0"]},
   "legend": {"orient": "none", "legendX": 172, "legendY": 281, "title": null, "symbolType": "M-1,0L1,0M0.17,0A0.17,0.17,0,1,1,-0.17,0A0.17,0.17,0,1,1,0.17,0", "symbolSize": 841, "symbolStrokeWidth": 1.2, "symbolFillColor": "#a0a0a0", "symbolStrokeColor": "#a0a0a0"}}}},
{"data": {"name": "est"}, "transform": [{"filter": "datum.p === 'b'"}],
 "mark": {"type": "point", "filled": true, "size": 30, "color": "#a0a0a0", "opacity": 1},
 "encoding": {"x": {"field": "x", "type": "quantitative", "title": "Application Cohort"}, "y": {"field": "y", "type": "quantitative", "title": "Effect on Top-Ranked School Achievement Growth (percentile rank)"}}}
]
},
{
"width": 529, "height": 240,
"title": {"text": "(c) High Saturation", "orient": "bottom", "anchor": "middle", "frame": "group", "dx": -30, "offset": 35},
"layer": [
{"data": {"name": "plac"}, "transform": [{"filter": "datum.p === 'c'"}],
 "mark": {"type": "line", "color": "#c4c4c4", "strokeWidth": 0.8, "opacity": 0.28},
 "encoding": {
  "x": {"field": "x", "type": "quantitative", "title": "Application Cohort", "scale": {"domain": [2013.88, 2022.125], "nice": false, "zero": false}, "axis": {"values": [2014, 2016, 2018, 2020, 2022], "format": "d"}},
  "y": {"field": "y", "type": "quantitative", "title": "Effect on Top-Ranked School Achievement Growth (percentile rank)", "scale": {"domain": [-21.35, 21.35], "nice": false, "zero": false}, "axis": {"values": [-20, -10, 0, 10, 20], "labelExpr": "'' + datum.value"}},
  "detail": {"field": "i", "type": "nominal"}}},
{"data": {"values": [{}]}, "mark": {"type": "rule", "color": "#000", "strokeWidth": 1}, "encoding": {"y": {"datum": 0, "type": "quantitative"}}},
{"data": {"values": [{}]}, "mark": {"type": "rule", "color": "#000", "strokeWidth": 1}, "encoding": {"x": {"datum": 2018.5, "type": "quantitative"}}},
{"data": {"name": "est"}, "transform": [{"filter": "datum.p === 'c'"}],
 "mark": {"type": "rule", "color": "#8e2c38", "opacity": 0.65, "strokeWidth": 1.2, "strokeDash": [6, 3]},
 "encoding": {"x": {"field": "x", "type": "quantitative", "title": "Application Cohort"}, "y": {"field": "lo", "type": "quantitative", "title": "Effect on Top-Ranked School Achievement Growth (percentile rank)"}, "y2": {"field": "hi"}}},
{"data": {"name": "est"}, "transform": [{"filter": "datum.p === 'c'"}],
 "mark": {"type": "line", "strokeWidth": 1.3, "strokeDash": [6, 4]},
 "encoding": {"x": {"field": "x", "type": "quantitative", "title": "Application Cohort"}, "y": {"field": "y", "type": "quantitative", "title": "Effect on Top-Ranked School Achievement Growth (percentile rank)"},
  "color": {"field": "s", "type": "nominal", "scale": {"range": ["#8e2c38"]},
   "legend": {"orient": "none", "legendX": 172, "legendY": 281, "title": null, "symbolType": "M-1,0L1,0M0.17,0A0.17,0.17,0,1,1,-0.17,0A0.17,0.17,0,1,1,0.17,0", "symbolSize": 841, "symbolStrokeWidth": 1.2, "symbolDash": [5, 4], "symbolFillColor": "#8e2c38", "symbolStrokeColor": "#8e2c38"}}}},
{"data": {"name": "est"}, "transform": [{"filter": "datum.p === 'c'"}],
 "mark": {"type": "point", "filled": true, "size": 30, "color": "#8e2c38", "opacity": 1},
 "encoding": {"x": {"field": "x", "type": "quantitative", "title": "Application Cohort"}, "y": {"field": "y", "type": "quantitative", "title": "Effect on Top-Ranked School Achievement Growth (percentile rank)"}}},
{"data": {"values": [{"x": 2021.3, "y": 9.9, "t": "p= 0.03"}]},
 "mark": {"type": "text", "align": "left", "baseline": "middle", "fontSize": 7, "color": "#333"},
 "encoding": {"x": {"field": "x", "type": "quantitative", "title": "Application Cohort"}, "y": {"field": "y", "type": "quantitative", "title": "Effect on Top-Ranked School Achievement Growth (percentile rank)"}, "text": {"field": "t"}}}
]
},
{
"width": 529, "height": 240,
"title": {"text": "(d) High Saturation Spillover", "orient": "bottom", "anchor": "middle", "frame": "group", "dx": -28, "offset": 35},
"layer": [
{"data": {"name": "plac"}, "transform": [{"filter": "datum.p === 'd'"}],
 "mark": {"type": "line", "color": "#c4c4c4", "strokeWidth": 0.8, "opacity": 0.28},
 "encoding": {
  "x": {"field": "x", "type": "quantitative", "title": "Application Cohort", "scale": {"domain": [2013.88, 2022.125], "nice": false, "zero": false}, "axis": {"values": [2014, 2016, 2018, 2020, 2022], "format": "d"}},
  "y": {"field": "y", "type": "quantitative", "title": "Effect on Top-Ranked School Achievement Growth (percentile rank)", "scale": {"domain": [-21.35, 21.35], "nice": false, "zero": false}, "axis": {"values": [-20, -10, 0, 10, 20], "labelExpr": "'' + datum.value"}},
  "detail": {"field": "i", "type": "nominal"}}},
{"data": {"values": [{}]}, "mark": {"type": "rule", "color": "#000", "strokeWidth": 1}, "encoding": {"y": {"datum": 0, "type": "quantitative"}}},
{"data": {"values": [{}]}, "mark": {"type": "rule", "color": "#000", "strokeWidth": 1}, "encoding": {"x": {"datum": 2018.5, "type": "quantitative"}}},
{"data": {"name": "est"}, "transform": [{"filter": "datum.p === 'd'"}],
 "mark": {"type": "rule", "color": "#8e2c38", "opacity": 0.7, "strokeWidth": 1.1},
 "encoding": {"x": {"field": "x", "type": "quantitative", "title": "Application Cohort"}, "y": {"field": "lo", "type": "quantitative", "title": "Effect on Top-Ranked School Achievement Growth (percentile rank)"}, "y2": {"field": "hi"}}},
{"data": {"name": "est"}, "transform": [{"filter": "datum.p === 'd'"}],
 "mark": {"type": "line", "strokeWidth": 1.3},
 "encoding": {"x": {"field": "x", "type": "quantitative", "title": "Application Cohort"}, "y": {"field": "y", "type": "quantitative", "title": "Effect on Top-Ranked School Achievement Growth (percentile rank)"},
  "color": {"field": "s", "type": "nominal", "scale": {"range": ["#8e2c38"]},
   "legend": {"orient": "none", "legendX": 172, "legendY": 281, "title": null, "symbolType": "M-1,0L1,0M0.17,0A0.17,0.17,0,1,1,-0.17,0A0.17,0.17,0,1,1,0.17,0", "symbolSize": 841, "symbolStrokeWidth": 1.2, "symbolFillColor": "#8e2c38", "symbolStrokeColor": "#8e2c38"}}}},
{"data": {"name": "est"}, "transform": [{"filter": "datum.p === 'd'"}],
 "mark": {"type": "point", "filled": true, "size": 30, "color": "#8e2c38", "opacity": 1},
 "encoding": {"x": {"field": "x", "type": "quantitative", "title": "Application Cohort"}, "y": {"field": "y", "type": "quantitative", "title": "Effect on Top-Ranked School Achievement Growth (percentile rank)"}}},
{"data": {"values": [{"x": 2021.4, "y": 8.3, "t": "p= 0.05"}]},
 "mark": {"type": "text", "align": "left", "baseline": "middle", "fontSize": 7, "color": "#333"},
 "encoding": {"x": {"field": "x", "type": "quantitative", "title": "Application Cohort"}, "y": {"field": "y", "type": "quantitative", "title": "Effect on Top-Ranked School Achievement Growth (percentile rank)"}, "text": {"field": "t"}}}
]
}
],
"config": {
 "view": {"stroke": null},
 "font": "Liberation Sans",
 "text": {"font": "Liberation Sans"},
 "title": {"font": "Liberation Serif", "fontSize": 26.5, "fontWeight": "normal", "color": "#000"},
 "axis": {"labelFont": "Liberation Sans", "titleFont": "Liberation Sans", "labelFontSize": 12, "titleFontSize": 12, "labelColor": "#000", "titleColor": "#000", "titleFontWeight": "normal", "domainColor": "#000", "domainWidth": 1, "tickColor": "#000", "tickWidth": 1, "gridColor": "#e6e6e6", "gridDash": [5, 4], "gridWidth": 1},
 "axisX": {"tickSize": 4, "labelPadding": 2, "titlePadding": 4, "labelFlush": false, "labelOverlap": false},
 "axisY": {"tickSize": 3, "labelPadding": 2, "titleAngle": 0, "titleAlign": "left", "titleBaseline": "middle", "titleX": -1, "titleY": -12, "titleFontSize": 12.7},
 "legend": {"labelFont": "Liberation Sans", "labelFontSize": 12, "labelColor": "#000", "labelOffset": 6}
}
}
